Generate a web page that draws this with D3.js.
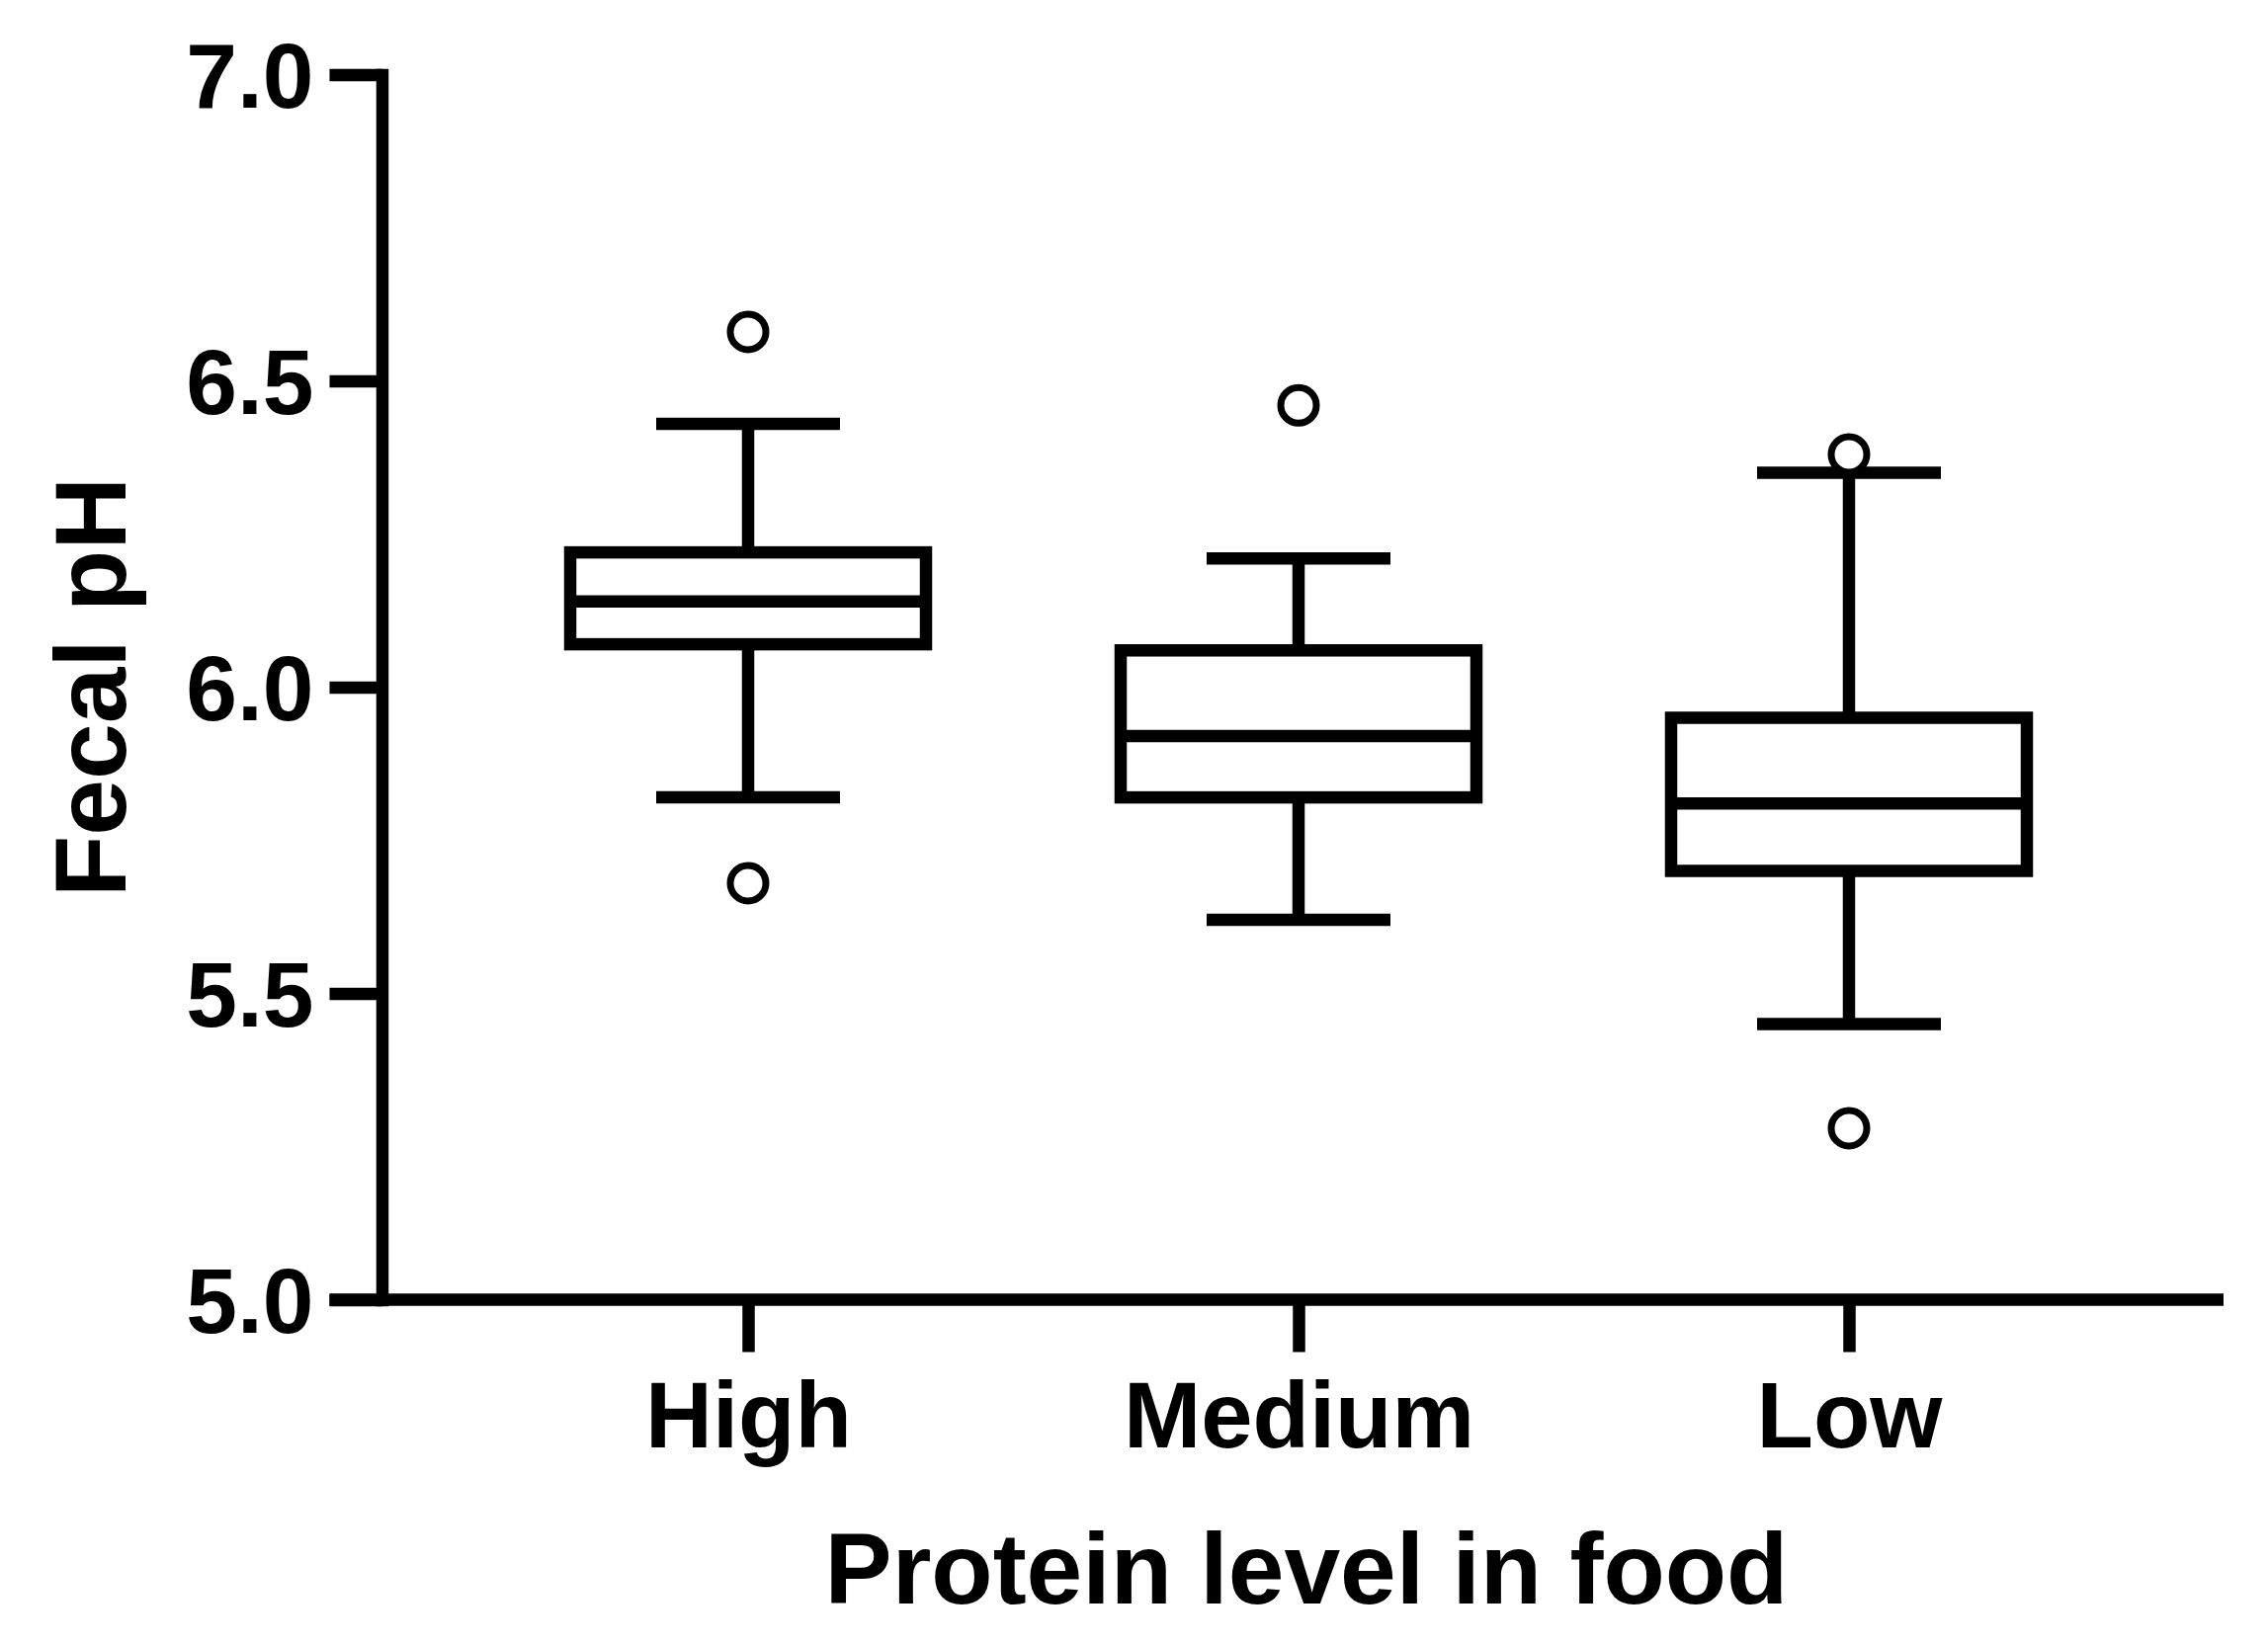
<!DOCTYPE html>
<html>
<head>
<meta charset="utf-8">
<title>Fecal pH by protein level</title>
<style>
  body { margin: 0; background: #fff; }
  text { font-family: 'Liberation Sans', Arial, sans-serif; font-weight: bold; fill: #000; }
</style>
<script src="https://d3js.org/d3.v7.min.js"></script>
</head>
<body>
<div id="chart"></div>
<script>
// ******* Data *******
const categories = ["High", "Medium", "Low"];
const whiskerLow  = [5.82, 5.62, 5.45];
const quartile1   = [6.07, 5.82, 5.70];
const medians     = [6.14, 5.92, 5.81];
const quartile3   = [6.22, 6.06, 5.95];
const whiskerHigh = [6.43, 6.21, 6.35];
const outliers    = [[6.58, 5.68], [6.46], [6.38, 5.28]];
const yTicks = [5.0, 5.5, 6.0, 6.5, 7.0];

// ******* Constants *******
const width = 2295,
      height = 1665,
      axisX = 386.5,
      axisRight = 2250,
      lineW = 12.5,
      tickLen = 53,
      boxW = 360,
      capW = 186,
      dotR = 18;

// ******* Scales *******
const y = d3.scaleLinear().domain([5, 7]).range([1315.5, 75.5]);
const x = d3.scalePoint().domain(categories).range([757, 1871]);

const svg = d3.select("#chart").append("svg")
    .attr("width", width)
    .attr("height", height)
    .style("display", "block");

svg.append("rect").attr("width", width).attr("height", height).attr("fill", "#fff");

// ******* Axes *******
const yAxis = svg.append("g")
    .attr("transform", `translate(${axisX},0)`)
    .call(d3.axisLeft(y).tickValues(yTicks).tickSize(tickLen).tickSizeOuter(0)
        .tickPadding(16).tickFormat(d3.format(".1f")));
yAxis.select(".domain").attr("stroke", "#000").attr("stroke-width", lineW)
    .attr("stroke-linecap", "square");
yAxis.selectAll(".tick line").attr("stroke", "#000").attr("stroke-width", lineW);
yAxis.selectAll(".tick text").style("font-size", "93px").attr("dy", "0.36em");

// x baseline (continues the 5.0 tick)
svg.append("line")
    .attr("x1", axisX - tickLen).attr("x2", axisRight)
    .attr("y1", y(5)).attr("y2", y(5))
    .attr("stroke", "#000").attr("stroke-width", lineW);

const xAxis = svg.append("g")
    .attr("transform", `translate(0,${y(5)})`)
    .call(d3.axisBottom(x).tickSize(tickLen).tickPadding(30));
xAxis.select(".domain").remove();
xAxis.selectAll(".tick line").attr("stroke", "#000").attr("stroke-width", lineW);
xAxis.selectAll(".tick text").style("font-size", "94px");

// ******* Boxes *******
const boxes = categories.map((c, i) => ({
  cat: c, lo: whiskerLow[i], q1: quartile1[i], med: medians[i],
  q3: quartile3[i], hi: whiskerHigh[i], out: outliers[i]
}));

const g = svg.append("g")
    .attr("fill", "none").attr("stroke", "#000").attr("stroke-width", lineW);

const b = g.selectAll("g.box").data(boxes).enter().append("g").attr("class", "box");

// whiskers
b.append("line")
    .attr("x1", d => x(d.cat)).attr("x2", d => x(d.cat))
    .attr("y1", d => y(d.hi)).attr("y2", d => y(d.q3));
b.append("line")
    .attr("x1", d => x(d.cat)).attr("x2", d => x(d.cat))
    .attr("y1", d => y(d.q1)).attr("y2", d => y(d.lo));
// caps
b.append("line")
    .attr("x1", d => x(d.cat) - capW / 2).attr("x2", d => x(d.cat) + capW / 2)
    .attr("y1", d => y(d.hi)).attr("y2", d => y(d.hi));
b.append("line")
    .attr("x1", d => x(d.cat) - capW / 2).attr("x2", d => x(d.cat) + capW / 2)
    .attr("y1", d => y(d.lo)).attr("y2", d => y(d.lo));
// box
b.append("rect")
    .attr("x", d => x(d.cat) - boxW / 2)
    .attr("width", boxW)
    .attr("y", d => y(d.q3))
    .attr("height", d => y(d.q1) - y(d.q3))
    .attr("fill", "#fff");
// median
b.append("line")
    .attr("x1", d => x(d.cat) - boxW / 2).attr("x2", d => x(d.cat) + boxW / 2)
    .attr("y1", d => y(d.med)).attr("y2", d => y(d.med));
// outliers
b.selectAll("circle").data(d => d.out.map(v => ({cat: d.cat, v: v})))
  .enter().append("circle")
    .attr("cx", d => x(d.cat)).attr("cy", d => y(d.v))
    .attr("r", dotR).attr("stroke-width", 7).attr("fill", "#fff");

// ******* Titles *******
svg.append("text")
    .attr("x", 1322).attr("y", 1623)
    .attr("text-anchor", "middle")
    .style("font-size", "102px")
    .text("Protein level in food");

svg.append("text")
    .attr("transform", `translate(127, ${y(6)}) rotate(-90)`)
    .attr("text-anchor", "middle")
    .style("font-size", "102px")
    .text("Fecal pH");
</script>
</body>
</html>
